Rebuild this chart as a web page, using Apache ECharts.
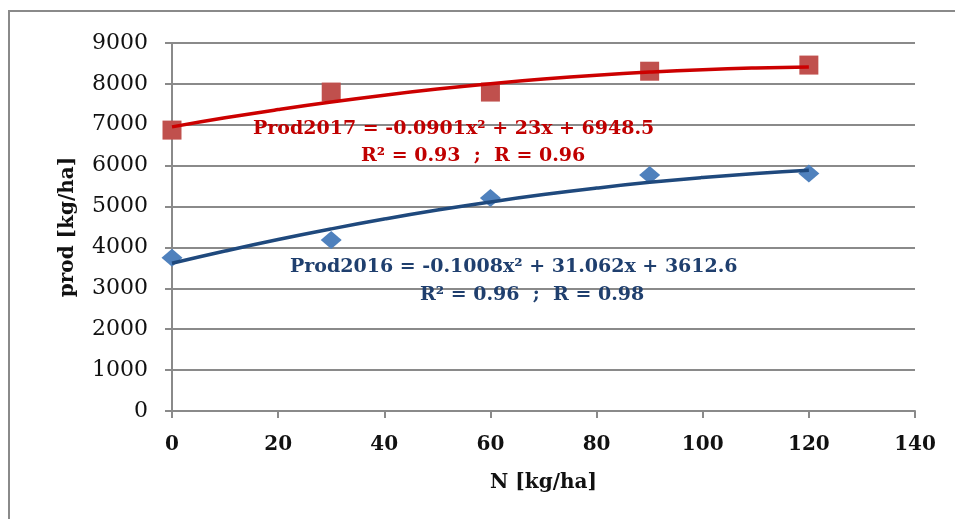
<!DOCTYPE html>
<html>
<head>
<meta charset="utf-8">
<script src="https://cdn.jsdelivr.net/npm/echarts@6/dist/echarts.min.js"></script>
<style>
html,body{margin:0;padding:0;background:#fff;}
#c{width:955px;height:519px;}
</style>
</head>
<body>
<div id="c"></div>
<script>
// Measured points
var nLevels = [0, 30, 60, 90, 120];
var prod2017 = [6870, 7800, 7800, 8310, 8460];
var prod2016 = [3750, 4180, 5210, 5770, 5810];
// Trend curves
var trendX = [0, 10, 20, 30, 40, 50, 60, 70, 80, 90, 100, 110, 120];
var trend2017 = [6949, 7170, 7372, 7557, 7724, 7873, 8004, 8117, 8212, 8289, 8348, 8388, 8411];
var trend2016 = [3613, 3913, 4194, 4454, 4694, 4914, 5113, 5293, 5452, 5592, 5711, 5810, 5889];
var xTicks = [0, 20, 40, 60, 80, 100, 120, 140];
var yTicks = [0, 1000, 2000, 3000, 4000, 5000, 6000, 7000, 8000, 9000];

function pairs(xs, ys) { return xs.map(function (x, i) { return [x, ys[i]]; }); }

var FONT = 'DejaVu Serif';
var chart = echarts.init(document.getElementById('c'), null, {renderer: 'canvas'});
chart.setOption({
  animation: false,
  backgroundColor: '#fff',
  grid: {left: 172, right: 40, top: 43, bottom: 108, containLabel: false},
  xAxis: {
    type: 'value', min: xTicks[0], max: xTicks[xTicks.length - 1], interval: 20,
    name: 'N [kg/ha]', nameLocation: 'middle', nameGap: 62,
    nameTextStyle: {fontFamily: FONT, fontWeight: 'bold', fontSize: 20, color: '#111'},
    axisLine: {show: true, onZero: false, lineStyle: {color: '#8a8a8a', width: 2}},
    axisTick: {show: true, length: 7, lineStyle: {color: '#8a8a8a', width: 2}},
    axisLabel: {fontFamily: FONT, fontWeight: 'bold', fontSize: 20, color: '#111', margin: 24,
      formatter: function (v) { return String(v); }},
    splitLine: {show: false}
  },
  yAxis: {
    type: 'value', min: yTicks[0], max: yTicks[yTicks.length - 1], interval: 1000,
    name: 'prod [kg/ha]', nameLocation: 'middle', nameGap: 94, nameRotate: 90,
    nameTextStyle: {fontFamily: FONT, fontWeight: 'bold', fontSize: 20, color: '#111'},
    axisLine: {show: true, onZero: false, lineStyle: {color: '#8a8a8a', width: 2}},
    axisTick: {show: true, length: 7, inside: false, lineStyle: {color: '#8a8a8a', width: 2}},
    axisLabel: {fontFamily: FONT, fontSize: 22, color: '#111', margin: 24,
      formatter: function (v) { return String(v); }},
    splitLine: {show: true, lineStyle: {color: '#8a8a8a', width: 2}}
  },
  graphic: [
    {type: 'rect', shape: {x: 9, y: 11, width: 2000, height: 1000}, style: {fill: 'none', stroke: '#8a8a8a', lineWidth: 2}, silent: true, z: -10},
    {type: 'text', left: 253, top: 120, style: {text: 'Prod2017 = -0.0901x² + 23x + 6948.5', font: 'bold 19px "DejaVu Serif"', fill: '#C00000'}, z: 100},
    {type: 'text', left: 361, top: 147, style: {text: 'R² = 0.93  ;  R = 0.96', font: 'bold 19px "DejaVu Serif"', fill: '#C00000'}, z: 100},
    {type: 'text', left: 290, top: 258, style: {text: 'Prod2016 = -0.1008x² + 31.062x + 3612.6', font: 'bold 19px "DejaVu Serif"', fill: '#1F3F6E'}, z: 100},
    {type: 'text', left: 420, top: 286, style: {text: 'R² = 0.96  ;  R = 0.98', font: 'bold 19px "DejaVu Serif"', fill: '#1F3F6E'}, z: 100}
  ],
  series: [
    {type: 'scatter', name: 'Prod2017', data: pairs(nLevels, prod2017), symbol: 'rect', symbolSize: 19,
      itemStyle: {color: '#C0504D', opacity: 1}, z: 2},
    {type: 'scatter', name: 'Prod2016', data: pairs(nLevels, prod2016), symbol: 'diamond', symbolSize: [21, 18],
      itemStyle: {color: '#4F81BD', opacity: 1}, z: 2},
    {type: 'line', name: 'Trend2017', data: pairs(trendX, trend2017), smooth: true, showSymbol: false, symbol: 'none',
      lineStyle: {color: '#CC0000', width: 3.5}, z: 3},
    {type: 'line', name: 'Trend2016', data: pairs(trendX, trend2016), smooth: true, showSymbol: false, symbol: 'none',
      lineStyle: {color: '#1F497D', width: 3.5}, z: 3}
  ]
});
</script>
</body>
</html>
